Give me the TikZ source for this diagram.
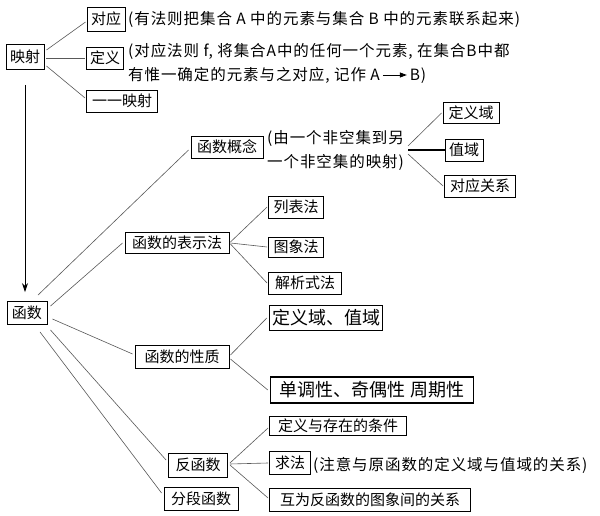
\documentclass[tikz,border=0pt]{standalone}
\usepackage{fontspec}
\setmainfont{Noto Sans CJK SC}
\newfontfamily\notefont[LetterSpace=6]{Noto Sans CJK SC}
\usetikzlibrary{arrows.meta,calc}
\begin{document}
\begin{tikzpicture}[x=1pt,y=-1pt,
 box/.style={draw=black,line width=0.9pt,inner sep=1pt,font=\fontsize{15}{17}\selectfont},
 bigbox/.style={box,line width=1.4pt,font=\fontsize{18}{20}\selectfont},
 note/.style={anchor=west,inner sep=0pt,font=\notefont\fontsize{15.5}{24}\selectfont,align=left},
 link/.style={draw=black!65,line width=0.6pt}]
\useasboundingbox[fill=white] (0,0) rectangle (600,516);
% mapping part
\node[box,minimum width=38,minimum height=25] (ys) at (25,57) {映射};
\node[box,minimum width=38,minimum height=24] (dy) at (106,19) {对应};
\node[note] (dyn) at (128,19) {(有法则把集合 A 中的元素与集合 B 中的元素联系起来)};
\node[box,minimum width=37,minimum height=22] (dyi) at (105,58) {定义};
\node[note] (dyin) at (128,63) {(对应法则 f, 将集合A中的任何一个元素, 在集合B中都\\有惟一确定的元素与之对应, 记作 A\,\tikz[baseline=-0.6ex,x=1pt,y=1pt]\draw[-{Triangle[length=7pt,width=5pt]},line width=0.8pt] (0,0)--(24,0);\,B)};
\node[box,minimum width=71,minimum height=22] (yy) at (122,101) {一一映射};
\node[box,minimum width=40,minimum height=23] (hs) at (27,313) {函数};
\draw[link] ($(ys.east)+(2,-7)$) -- ($(dy.west)+(-1,3)$);
\draw[link] ($(ys.east)+(2,1)$) -- ($(dyi.west)+(-1,0)$);
\draw[link] ($(ys.east)+(2,9)$) -- ($(yy.west)+(-1,-3)$);
\draw[-{Stealth[length=9pt,width=6pt]},line width=0.8pt] ($(ys.south)+(0,15)$) -- ($(hs.north)+(-2,-9)$);
% function concept
\node[box,minimum width=72,minimum height=22] (gn) at (227,147) {函数概念};
\node[note] (gnn) at (267,150) {(由一个非空集到另\\一个非空集的映射)};
\coordinate (gnr) at (408,150);
\node[box,minimum width=56,minimum height=21] (dyy) at (471,113) {定义域};
\node[box,minimum width=38,minimum height=22] (zy) at (464,150) {值域};
\node[box,minimum width=71,minimum height=22] (dygx) at (480,186) {对应关系};
\draw[link] ($(gnr)+(0,-4)$) -- ($(dyy.west)+(-1,0)$);
\draw[black,line width=1.1pt] (gnr) -- (zy.west);
\draw[link] ($(gnr)+(0,4)$) -- ($(dygx.west)+(-1,0)$);
% representation
\node[box,minimum width=104,minimum height=21] (bsf) at (177,243) {函数的表示法};
\node[box,minimum width=55,minimum height=22] (lbf) at (296,207) {列表法};
\node[box,minimum width=55,minimum height=20] (txf) at (296,247) {图象法};
\node[box,minimum width=73,minimum height=22] (jxsf) at (305,283) {解析式法};
\draw[link] ($(bsf.east)+(1,-1)$) -- ($(lbf.west)+(-1,0)$);
\draw[link] ($(bsf.east)+(1,0)$) -- ($(txf.west)+(-1,0)$);
\draw[link] ($(bsf.east)+(1,1)$) -- ($(jxsf.west)+(-1,0)$);
% properties
\node[box,minimum width=94,minimum height=23] (xz) at (182,357) {函数的性质};
\node[bigbox,minimum width=113,minimum height=25] (dyzy) at (326,318) {定义域、值域};
\node[bigbox,minimum width=203,minimum height=26] (dd) at (372,390) {单调性、奇偶性 周期性};
\draw[link] ($(xz.east)+(1,-2)$) -- ($(dyzy.west)+(-2,0)$);
\draw[link] ($(xz.east)+(1,2)$) -- ($(dd.west)+(-2,0)$);
% inverse
\node[box,minimum width=59,minimum height=24] (fhs) at (198,465) {反函数};
\node[box,minimum width=74,minimum height=23] (fd) at (201,499) {分段函数};
\node[box,minimum width=137,minimum height=19] (cz) at (338,426) {定义与存在的条件};
\node[box,minimum width=41,minimum height=23] (qf) at (290,463) {求法};
\node[note] (qfn) at (313,465) {(注意与原函数的定义域与值域的关系)};
\node[box,minimum width=201,minimum height=23] (hw) at (370,500) {互为反函数的图象间的关系};
\draw[link] ($(fhs.east)+(2,-2)$) -- ($(cz.west)+(-1,2)$);
\draw[link] ($(fhs.east)+(2,-1)$) -- ($(qf.west)+(-1,0)$);
\draw[link] ($(fhs.east)+(2,0)$) -- ($(hw.west)+(-1,-2)$);
% links from 函数
\draw[link] ($(hs.north)+(11,-6)$) -- ($(gn.west)+(-2,3)$);
\draw[link] ($(hs.north east)+(3,5)$) -- ($(bsf.west)+(-2,0)$);
\draw[link] ($(hs.east)+(5,6)$) -- ($(xz.west)+(-2,-3)$);
\draw[link] ($(hs.south east)+(3,5)$) -- ($(fhs.west)+(-2,-5)$);
\draw[link] ($(hs.south)+(13,7)$) -- ($(fd.west)+(-2,-6)$);
\end{tikzpicture}
\end{document}
